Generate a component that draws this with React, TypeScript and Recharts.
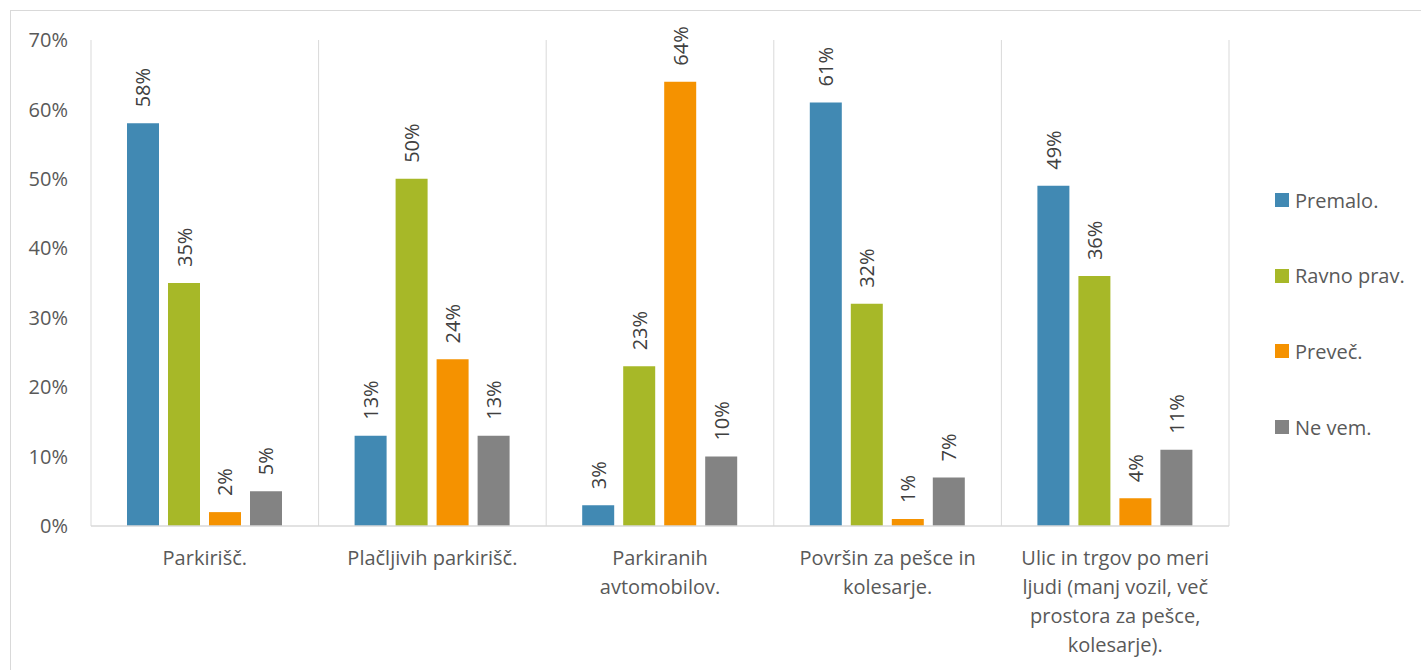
import { BarChart, Bar, XAxis, YAxis, CartesianGrid, LabelList } from 'recharts';

const categories = [
  'Parkirišč.',
  'Plačljivih parkirišč.',
  'Parkiranih\navtomobilov.',
  'Površin za pešce in\nkolesarje.',
  'Ulic in trgov po meri\nljudi (manj vozil, več\nprostora za pešce,\nkolesarje).',
];
const premalo = [58, 13, 3, 61, 49];
const ravnoPrav = [35, 50, 23, 32, 36];
const prevec = [2, 24, 64, 1, 4];
const neVem = [5, 13, 10, 7, 11];
const yTicks = [0, 10, 20, 30, 40, 50, 60, 70];

const series = [
  { key: 'premalo', name: 'Premalo.', color: '#4189B3' },
  { key: 'ravnoPrav', name: 'Ravno prav.', color: '#A7B828' },
  { key: 'prevec', name: 'Preveč.', color: '#F59200' },
  { key: 'neVem', name: 'Ne vem.', color: '#838383' },
];

const data = categories.map((name, i) => ({
  name,
  premalo: premalo[i],
  ravnoPrav: ravnoPrav[i],
  prevec: prevec[i],
  neVem: neVem[i],
}));

const FONT = '"Open Sans", "Segoe UI", sans-serif';
const FS = 20;

const ValueLabel = (props: any) => {
  const { x, y, width, value } = props;
  const cx = x + width / 2;
  const cy = y - 16;
  return (
    <text
      x={cx}
      y={cy}
      transform={`rotate(-90, ${cx}, ${cy})`}
      textAnchor="start"
      dominantBaseline="central"
      fill="#404040"
      fontSize={FS}
      fontFamily={FONT}
    >
      {`${value}%`}
    </text>
  );
};

const CategoryTick = (props: any) => {
  const { x, y, payload } = props;
  const lines = String(payload.value).split('\n');
  return (
    <text x={x} y={y} textAnchor="middle" fill="#595959" fontSize={FS} fontFamily={FONT}>
      {lines.map((line, i) => (
        <tspan key={i} x={x} dy={i === 0 ? 39 : 29}>
          {line}
        </tspan>
      ))}
    </text>
  );
};

export default function App() {
  return (
    <div
      style={{
        position: 'fixed',
        left: 0,
        top: 0,
        width: 1421,
        height: 670,
        background: '#fff',
        overflow: 'hidden',
        fontFamily: FONT,
      }}
    >
      <div
        style={{
          position: 'absolute',
          left: 10,
          top: 10,
          width: 1500,
          height: 800,
          border: '1px solid #d9d9d9',
        }}
      />
      <div style={{ position: 'absolute', left: 0, top: 0 }}>
        <BarChart
          width={1421}
          height={670}
          data={data}
          margin={{ top: 40, right: 192, left: 0, bottom: 10 }}
          barSize={32}
          barGap={9}
        >
          <CartesianGrid
            horizontal={false}
            stroke="#d9d9d9"
            verticalCoordinatesGenerator={({ offset }: any) =>
              categories
                .concat([''])
                .map((_, i) => offset.left + (offset.width * i) / categories.length)
            }
          />
          <XAxis
            dataKey="name"
            height={134}
            interval={0}
            tickSize={0}
            tickMargin={0}
            axisLine={{ stroke: '#d9d9d9', strokeWidth: 1.5 }}
            tickLine={false}
            tick={<CategoryTick />}
          />
          <YAxis
            width={91}
            domain={[0, 70]}
            ticks={yTicks}
            tickFormatter={(v) => `${v}%`}
            axisLine={false}
            tickLine={false}
            tickSize={0}
            tickMargin={23}
            tick={{ fill: '#595959', fontSize: FS, fontFamily: FONT }}
          />
          {series.map((s) => (
            <Bar key={s.key} dataKey={s.key} name={s.name} fill={s.color} isAnimationActive={false}>
              <LabelList dataKey={s.key} content={<ValueLabel />} />
            </Bar>
          ))}
        </BarChart>
      </div>
      <div style={{ position: 'absolute', left: 1275, top: 200 }}>
        {series.map((s, i) => (
          <div
            key={s.key}
            style={{
              position: 'absolute',
              left: 0,
              top: i * 75.7 - 12,
              height: 24,
              display: 'flex',
              alignItems: 'center',
              whiteSpace: 'nowrap',
            }}
          >
            <span style={{ width: 14, height: 14, background: s.color, display: 'inline-block' }} />
            <span style={{ marginLeft: 6, fontSize: FS, color: '#595959' }}>{s.name}</span>
          </div>
        ))}
      </div>
    </div>
  );
}
